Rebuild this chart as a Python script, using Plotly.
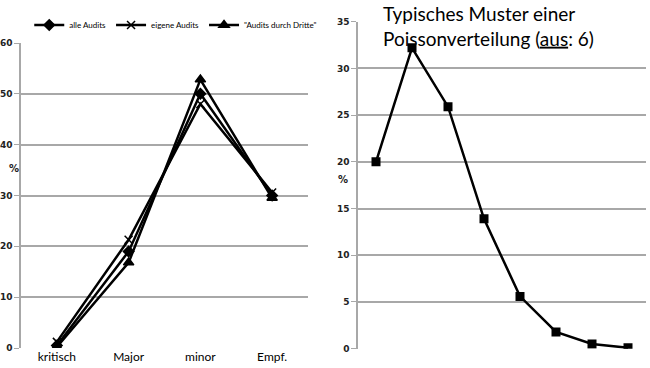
import plotly.graph_objects as go

# Left chart data
categories = ["kritisch", "Major", "minor", "Empf."]
alle_audits = [0.5, 19, 50, 30]
eigene_audits = [1.2, 21.3, 48, 30.6]
dritte_audits = [0.2, 16.8, 52.8, 29.5]
series_names = ["alle Audits", "eigene Audits", "\"Audits durch Dritte\""]

# Right chart data (Poisson)
poisson_x = [0, 1, 2, 3, 4, 5, 6, 7]
poisson_y = [20, 32.2, 25.9, 13.9, 5.6, 1.8, 0.5, 0.1]

left_ticks = [0, 10, 20, 30, 40, 50, 60]
right_ticks = [0, 5, 10, 15, 20, 25, 30, 35]

fig = go.Figure()
markers = ["diamond", "x-thin-open", "triangle-up"]
sizes = [8, 8, 9]
for name, vals, sym, sz in zip(series_names, [alle_audits, eigene_audits, dritte_audits], markers, sizes):
    fig.add_trace(go.Scatter(
        x=categories, y=vals, name=name, mode="lines+markers",
        line=dict(color="black", width=2.5),
        marker=dict(symbol=sym, size=sz, color="black", line=dict(color="black", width=1.5)),
        xaxis="x", yaxis="y"))

fig.add_trace(go.Scatter(
    x=poisson_x, y=poisson_y, mode="lines+markers", showlegend=False,
    line=dict(color="black", width=2.5),
    marker=dict(symbol="square", size=9, color="black"),
    xaxis="x2", yaxis="y2"))

grid = "#a8a8a8"
tickfont = dict(family="DejaVu Sans", size=9, color="#222", weight="bold")
fig.update_layout(
    width=650, height=368,
    margin=dict(l=0, r=0, t=0, b=0, autoexpand=False),
    paper_bgcolor="white", plot_bgcolor="white",
    showlegend=True,
    legend=dict(orientation="h", x=0.045, y=0.932, xanchor="left", yanchor="middle",
                font=dict(family="Lato", size=8, color="black"),
                itemwidth=30, tracegroupgap=0, bgcolor="rgba(0,0,0,0)"),
    xaxis=dict(domain=[21/650, 308/650], type="category", range=[-0.5, 3.5],
               showgrid=False, showline=False, ticks="", automargin=False,
               tickfont=dict(family="Lato", size=12, color="black"), anchor="y"),
    yaxis=dict(domain=[20/368, 325/368], range=[0, 60], tickvals=left_ticks,
               showgrid=True, gridcolor=grid, gridwidth=1.5, automargin=False,
               showline=True, linecolor=grid, linewidth=1.5,
               ticks="outside", ticklen=5, tickcolor=grid,
               tickfont=tickfont, zeroline=False, anchor="x"),
    xaxis2=dict(domain=[358/650, 646/650], range=[-0.5, 7.5], automargin=False,
                showgrid=False, showline=False, ticks="", showticklabels=False,
                zeroline=False, anchor="y2"),
    yaxis2=dict(domain=[19.3/368, 346.3/368], range=[0, 35], tickvals=right_ticks,
                showgrid=True, gridcolor=grid, gridwidth=1.5, automargin=False,
                showline=True, linecolor=grid, linewidth=1.5,
                ticks="outside", ticklen=5, tickcolor=grid,
                tickfont=tickfont, zeroline=False, anchor="x2"),
    annotations=[
        dict(text="%", x=7/650, y=1-168/368, xref="paper", yref="paper", showarrow=False,
             font=dict(family="DejaVu Sans", size=10, color="#222", weight="bold")),
        dict(text="%", x=343/650, y=1-180/368, xref="paper", yref="paper", showarrow=False,
             font=dict(family="DejaVu Sans", size=10, color="#222", weight="bold")),
        dict(text="Typisches Muster einer<br>Poissonverteilung (<u>aus</u>: 6)",
             x=381/650, y=1.0, xref="paper", yref="paper", xanchor="left", yanchor="top",
             align="left", showarrow=False,
             font=dict(family="Lato", size=19, color="black")),
    ],
)

fig.write_html("out.html", config={"displayModeBar": False},
               post_script="document.body.style.margin='0';")
